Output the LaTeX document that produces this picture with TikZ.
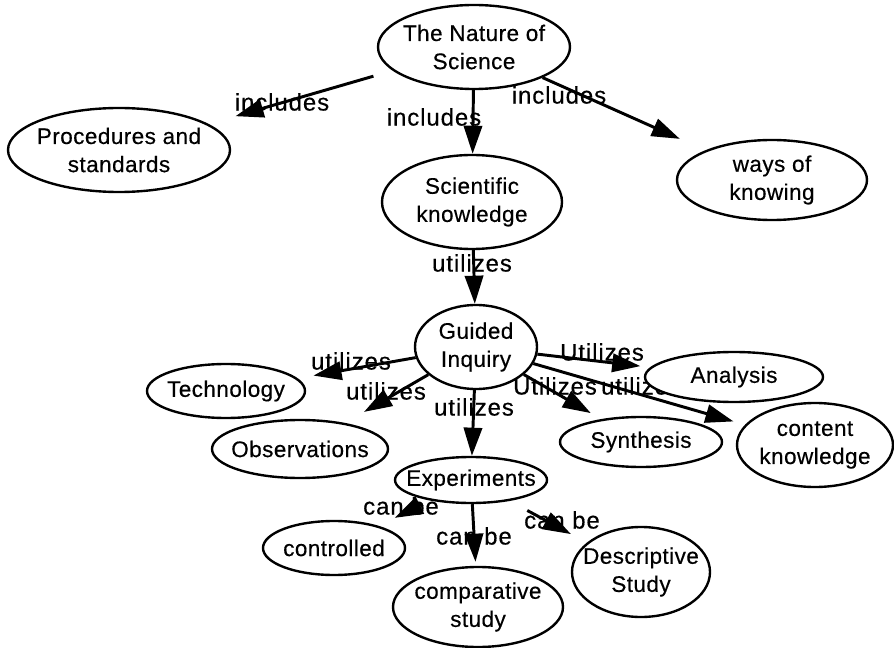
\documentclass[tikz,border=0pt]{standalone}
\usepackage{fontspec}
\setmainfont{Liberation Sans}
\newfontfamily\conceptfont[LetterSpace=2, FakeBold=0.4]{Liberation Sans}
\newfontfamily\linkfont[LetterSpace=4, FakeBold=0.4]{Liberation Sans}
\usetikzlibrary{arrows.meta, shapes.geometric, backgrounds}

\begin{document}
\begin{tikzpicture}[
    x=0.25mm, y=-0.25mm,
    concept/.style={ellipse, draw, fill=white, line width=1.7pt, align=center,
                    inner xsep=-6mm, inner ysep=0pt,
                    font=\conceptfont\fontsize{16}{20}\selectfont},
    link/.style={font=\linkfont\fontsize{17}{20}\selectfont, inner sep=0pt},
    arr/.style={-{Triangle[length=20pt, width=13pt]}, line width=2.1pt},
  ]
    \useasboundingbox (0,0) rectangle (894,648);

    \node[concept, minimum width=48mm, minimum height=21mm] (nat) at (474,47) {The Nature of\\Science};
    \node[concept, minimum width=55.5mm, minimum height=21mm] (proc) at (119,150) {Procedures and\\standards};
    \node[concept, minimum width=45mm, minimum height=23.5mm] (sk) at (472,202) {Scientific\\knowledge};
    \node[concept, minimum width=47.5mm, minimum height=20mm] (wok) at (772,180) {ways of\\knowing};
    \node[concept, minimum width=30.5mm, minimum height=21mm] (gi) at (476,347) {Guided\\Inquiry};
    \node[concept, minimum width=39.5mm, minimum height=13.5mm] (tech) at (226,391) {Technology};
    \node[concept, minimum width=44mm, minimum height=14.5mm] (obs) at (300,449) {Observations};
    \node[concept, minimum width=38mm, minimum height=11.5mm] (exp) at (471,480) {Experiments};
    \node[concept, minimum width=40.5mm, minimum height=12.5mm] (syn) at (641,442) {Synthesis};
    \node[concept, minimum width=44.5mm, minimum height=12.5mm] (ana) at (734,377) {Analysis};
    \node[concept, minimum width=39mm, minimum height=21mm] (ck) at (815,445) {content\\knowledge};
    \node[concept, minimum width=35.5mm, minimum height=13.5mm] (ctrl) at (334,548) {controlled};
    \node[concept, minimum width=42.5mm, minimum height=20mm] (comp) at (478,607) {comparative\\study};
    \node[concept, minimum width=34.5mm, minimum height=22.5mm] (desc) at (641,572) {Descriptive\\Study};

    \begin{scope}[on background layer]
      \draw[arr, shorten <=5mm, shorten >=7mm] (nat) -- (proc);
      \draw[arr] (nat) -- (sk);
      \draw[arr, shorten >=7mm] (nat) -- (wok);
      \draw[arr] (sk) -- (gi);
      \draw[arr, shorten >=4mm] (gi) -- (tech);
      \draw[arr, shorten >=5.5mm] (gi) -- (obs);
      \draw[arr] (gi) -- (exp);
      \draw[arr, shorten >=2.5mm] (gi) -- (ana);
      \draw[arr, shorten >=3mm] (gi) -- (syn);
      \draw[arr, shorten >=3mm] (gi) -- (ck);
      \draw[arr, shorten <=2mm, shorten >=4.5mm] (exp) -- (ctrl);
      \draw[arr, shorten >=1mm] (exp) -- (comp);
      \draw[arr, shorten <=5mm, shorten >=4.5mm] (exp) -- (desc);

      \node[link] (inc1) at (282,102) {includes};
      \node[link] (inc2) at (434,117) {includes};
      \node[link] (inc3) at (559,95) {includes};
      \node[link] (ut1) at (472,263) {utilizes};
      \node[link] (ut2) at (351,361) {utilizes};
      \node[link] (ut3) at (386,391) {utilizes};
      \node[link] (ut4) at (474,407) {utilizes};
      \node[link] (ut5) at (602,352) {Utilizes};
      \node[link] (ut6) at (555,386) {Utilizes};
      \node[link] (ut7) at (641,386) {utilizes};
      \node[link] (cb1) at (401,506) {can be};
      \node[link] (cb2) at (474,536) {can be};
      \node[link] (cb3) at (562,520) {can be};
    \end{scope}
  \end{tikzpicture}
\end{document}
